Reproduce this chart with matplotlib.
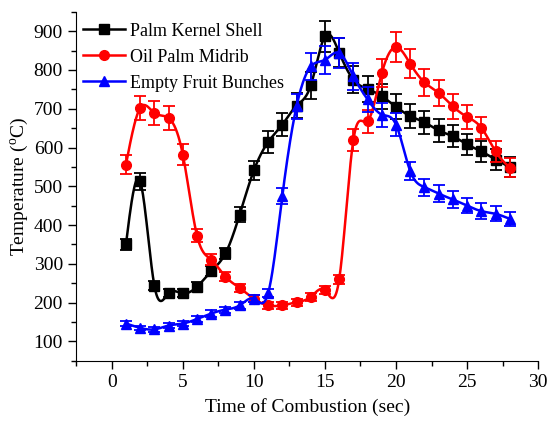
import numpy as np
import matplotlib
matplotlib.use("Agg")
import matplotlib.pyplot as plt
from matplotlib.ticker import MultipleLocator

plt.rcParams['font.family'] = ['Liberation Serif', 'DejaVu Serif']
plt.rcParams['mathtext.fontset'] = 'custom'
plt.rcParams['mathtext.rm'] = 'Liberation Serif'

# time (sec)
t = np.arange(1, 29)

# Palm Kernel Shell
pks = [350, 513, 244, 224, 224, 241, 281, 327, 427, 541, 614, 659, 708, 760,
       887, 845, 775, 751, 732, 705, 681, 665, 644, 629, 608, 590, 569, 550]
pks_err = [15, 22, 12, 10, 10, 11, 13, 15, 20, 25, 28, 30, 32, 34,
           40, 38, 35, 34, 33, 32, 31, 30, 29, 28, 27, 27, 26, 25]

# Oil Palm Midrib
opm = [556, 702, 689, 676, 582, 373, 311, 267, 238, 210, 193, 193, 201, 215,
       232, 260, 620, 668, 792, 859, 816, 768, 741, 706, 679, 651, 590, 548]
opm_err = [25, 32, 31, 30, 26, 17, 14, 12, 11, 9, 9, 9, 9, 10,
           10, 12, 28, 30, 36, 39, 37, 35, 33, 32, 31, 29, 27, 25]

# Empty Fruit Bunches
efb = [146, 135, 131, 141, 146, 158, 172, 182, 193, 210, 224, 475, 706, 809,
       826, 844, 784, 724, 685, 659, 539, 498, 481, 466, 450, 436, 429, 416]
efb_err = [7, 6, 6, 6, 7, 7, 8, 8, 9, 9, 10, 21, 32, 36,
           37, 38, 35, 33, 31, 30, 24, 22, 22, 21, 20, 20, 19, 19]


def spline(x, y, n=20):
    # natural cubic spline, only for drawing the connecting line
    x = np.asarray(x, float)
    y = np.asarray(y, float)
    m = len(x)
    h = np.diff(x)
    A = np.zeros((m, m))
    r = np.zeros(m)
    A[0, 0] = A[-1, -1] = 1
    for i in range(1, m - 1):
        A[i, i - 1] = h[i - 1]
        A[i, i] = 2 * (h[i - 1] + h[i])
        A[i, i + 1] = h[i]
        r[i] = 3 * ((y[i + 1] - y[i]) / h[i] - (y[i] - y[i - 1]) / h[i - 1])
    c = np.linalg.solve(A, r)
    xs, ys = [], []
    for i in range(m - 1):
        b = (y[i + 1] - y[i]) / h[i] - h[i] * (2 * c[i] + c[i + 1]) / 3
        d = (c[i + 1] - c[i]) / (3 * h[i])
        u = np.linspace(0, h[i], n, endpoint=False)
        xs.append(x[i] + u)
        ys.append(y[i] + b * u + c[i] * u ** 2 + d * u ** 3)
    xs.append([x[-1]])
    ys.append([y[-1]])
    return np.concatenate(xs), np.concatenate(ys)


fig = plt.figure(figsize=(5.52, 4.22), dpi=100)
ax = fig.add_axes([0.138, 0.145, 0.837, 0.827])

series = [
    (pks, pks_err, 'black', 's', 'Palm Kernel Shell'),
    (opm, opm_err, 'red', 'o', 'Oil Palm Midrib'),
    (efb, efb_err, 'blue', '^', 'Empty Fruit Bunches'),
]
for y, e, col, mk, lab in series:
    sx, sy = spline(t, y)
    ax.plot(sx, sy, color=col, lw=1.8)
    ax.errorbar(t, y, yerr=e, fmt='none', ecolor=col, elinewidth=1.3,
                capsize=4, capthick=1.3)
    ax.plot(t, y, ls='none', marker=mk, color=col, ms=7)
    ax.plot([], [], color=col, lw=1.8, marker=mk, ms=7, label=lab)

ax.set_xlim(-2.5, 30)
ax.set_ylim(50, 950)
ax.xaxis.set_major_locator(MultipleLocator(5))
ax.xaxis.set_minor_locator(MultipleLocator(2.5))
ax.yaxis.set_major_locator(MultipleLocator(100))
ax.yaxis.set_minor_locator(MultipleLocator(50))
ax.set_yticks(np.arange(100, 901, 100))
ax.spines['top'].set_visible(False)
ax.spines['right'].set_visible(False)
ax.tick_params(which='major', length=6, width=1, labelsize=14)
ax.tick_params(which='minor', length=3.5, width=1)
ax.set_xlabel('Time of Combustion (sec)', fontsize=14, labelpad=5)
ax.set_ylabel(r'Temperature ($^{\rm o}$C)', fontsize=14, labelpad=2)

ax.legend(loc='upper left', bbox_to_anchor=(0.0, 0.99), frameon=False,
          fontsize=13, handlelength=2.3, handletextpad=0.3,
          labelspacing=0.5, borderaxespad=0.0)

fig.savefig('out.png', dpi=100)
